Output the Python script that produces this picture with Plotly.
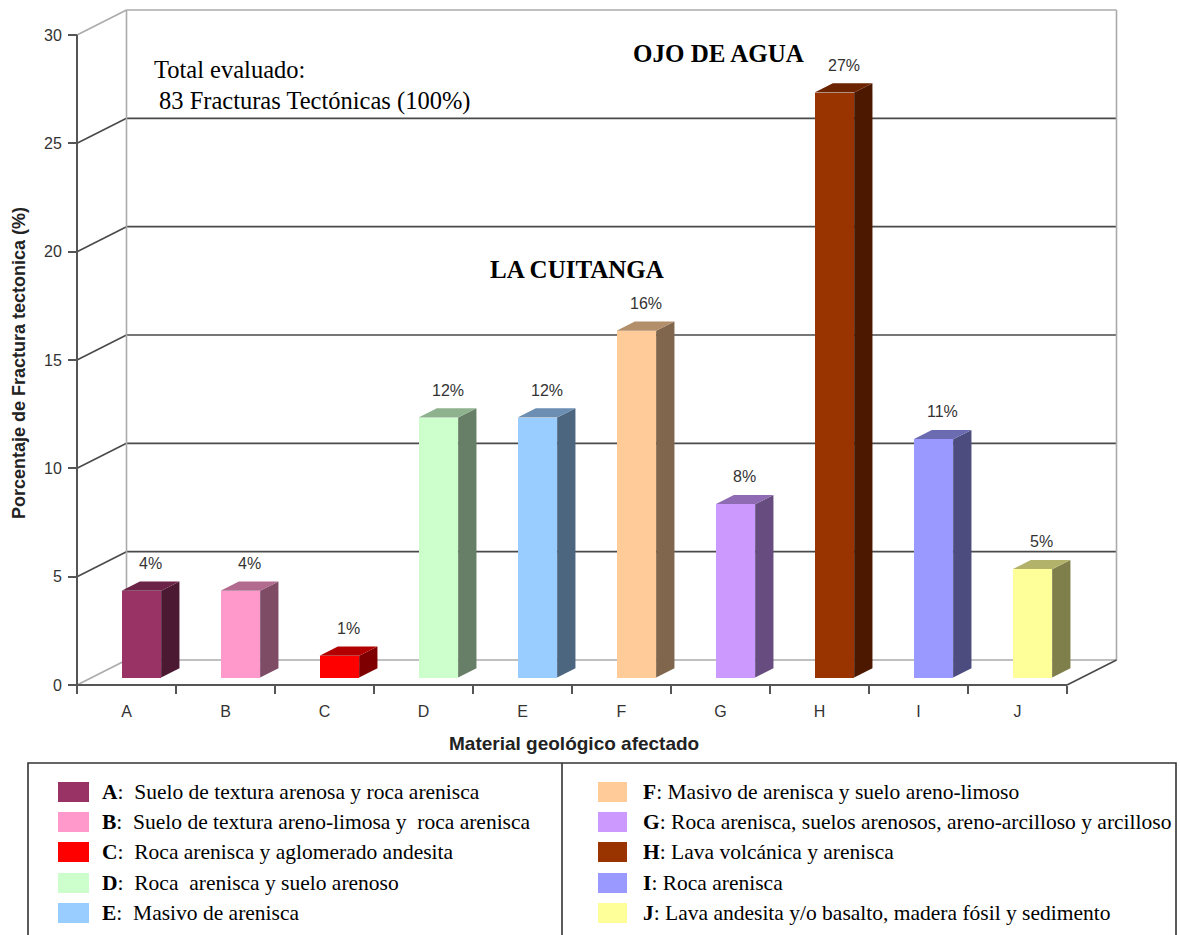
import plotly.graph_objects as go

# ---- data -------------------------------------------------------------
categories = ["A", "B", "C", "D", "E", "F", "G", "H", "I", "J"]
percentages = [4, 4, 1, 12, 12, 16, 8, 27, 11, 5]
bar_colors = ["#993366", "#ff99cc", "#ff0000", "#ccffcc", "#99ccff",
              "#ffcc99", "#cc99ff", "#993300", "#9999ff", "#ffff99"]
legend_texts = [
    "Suelo de textura arenosa y roca arenisca",
    "Suelo de textura areno-limosa y  roca arenisca",
    "Roca arenisca y aglomerado andesita",
    "Roca  arenisca y suelo arenoso",
    "Masivo de arenisca",
    "Masivo de arenisca y suelo areno-limoso",
    "Roca arenisca, suelos arenosos, areno-arcilloso y arcilloso",
    "Lava volcánica y arenisca",
    "Roca arenisca",
    "Lava andesita y/o basalto, madera fósil y sedimento",
]
y_ticks = [0, 5, 10, 15, 20, 25, 30]

# ---- layout geometry ----------------------------------------------------
W, H = 1180, 935
X0_PX, CAT_PX = 77, 99          # left edge of front plane, pixels per category
Y0_PX, UNIT_PX = 685, 650 / 30  # baseline of front plane, pixels per percent
DX, DY = 0.5, 25 / UNIT_PX      # depth of the 3-D box in data units
F0, FD, BW = 0.30, 0.37, 0.40   # bar front depth, bar depth, bar width

x_range = [-0.5 - X0_PX / CAT_PX, -0.5 + (W - X0_PX) / CAT_PX]
y_range = [-(H - Y0_PX) / UNIT_PX, Y0_PX / UNIT_PX]

SANS = "Liberation Sans, Arial, sans-serif"
SERIF = "Liberation Serif, Times New Roman, serif"


def shade(hex_color, k):
    h = hex_color.lstrip("#")
    r, g, b = (int(h[i:i + 2], 16) for i in (0, 2, 4))
    return "#{:02x}{:02x}{:02x}".format(int(r * k), int(g * k), int(b * k))


def px_x(p):
    return p / W


def px_y(p):
    return 1 - p / H


shapes = []


def seg(x0, y0, x1, y1, color, width=1.6):
    shapes.append(dict(type="line", xref="x", yref="y", x0=x0, y0=y0,
                       x1=x1, y1=y1, layer="below",
                       line=dict(color=color, width=width)))


DARK, LIGHT = "#4a4a4a", "#ababab"
xl, xr = -0.5, len(categories) - 0.5

# back wall, side wall and floor
for v in y_ticks:
    col = LIGHT if v in (0, y_ticks[-1]) else DARK
    seg(xl + DX, v + DY, xr + DX, v + DY, col)
    seg(xl, v, xl + DX, v + DY, col)
seg(xl + DX, DY, xl + DX, y_ticks[-1] + DY, LIGHT)
seg(xr + DX, DY, xr + DX, y_ticks[-1] + DY, LIGHT)
seg(xr, 0, xr + DX, DY, DARK)
# front axis lines
seg(xl, 0, xl, y_ticks[-1], "#555555", 2)
seg(xl, 0, xr, 0, "#555555", 2)

# side and top faces of every bar
base = F0 * DY
for i, (v, c) in enumerate(zip(percentages, bar_colors)):
    fl = i - BW / 2 + F0 * DX
    fr = fl + BW
    top = base + v
    ddx, ddy = FD * DX, FD * DY
    side = (f"M {fr},{base} L {fr + ddx},{base + ddy} "
            f"L {fr + ddx},{top + ddy} L {fr},{top} Z")
    cap = (f"M {fl},{top} L {fl + ddx},{top + ddy} "
           f"L {fr + ddx},{top + ddy} L {fr},{top} Z")
    for path, k in ((side, 0.5), (cap, 0.7)):
        shapes.append(dict(type="path", xref="x", yref="y", path=path,
                           layer="below", fillcolor=shade(c, k),
                           line=dict(width=0)))

fig = go.Figure()
fig.add_trace(go.Bar(
    x=list(range(len(categories))), y=percentages, base=base,
    width=BW, offset=-BW / 2 + F0 * DX,
    marker=dict(color=bar_colors, line=dict(width=0)),
    hoverinfo="skip", showlegend=False,
))

annotations = []
# value labels above each bar
for i, v in enumerate(percentages):
    annotations.append(dict(
        x=i + (F0 + FD / 2) * DX, y=base + v + FD * DY, xref="x", yref="y",
        text=f"{v}%", showarrow=False, yshift=18,
        font=dict(family=SANS, size=16, color="#333333")))


def note(text, x, y, size, family, color="#000000", xanchor="left",
         angle=0):
    annotations.append(dict(
        x=px_x(x), y=px_y(y), xref="paper", yref="paper", text=text,
        showarrow=False, xanchor=xanchor, yanchor="middle", textangle=angle,
        font=dict(family=family, size=size, color=color)))


note("Total evaluado:", 152, 70, 24.5, SERIF)
note("83 Fracturas Tectónicas (100%)", 157, 101, 24.5, SERIF)
note("<b>OJO DE AGUA</b>", 718, 54, 25, SERIF, xanchor="center")
note("<b>LA CUITANGA</b>", 577, 269, 25, SERIF, xanchor="center")
note("<b>Material geológico afectado</b>", 574, 743, 19, SANS,
     color="#222222", xanchor="center")
note("<b>Porcentaje de Fractura tectonica (%)</b>", 19, 363, 18, SANS,
     color="#222222", xanchor="center", angle=-90)

# legend table
LEG_TOP = 763
shapes.append(dict(type="rect", xref="paper", yref="paper",
                   x0=px_x(28), x1=px_x(1176), y0=px_y(LEG_TOP),
                   y1=px_y(H + 5), line=dict(color="#333333", width=1.6),
                   fillcolor="rgba(0,0,0,0)", layer="above"))
shapes.append(dict(type="line", xref="paper", yref="paper",
                   x0=px_x(562), x1=px_x(562), y0=px_y(LEG_TOP),
                   y1=px_y(H + 5), line=dict(color="#333333", width=1.6),
                   layer="above"))
row_y = [792, 822, 852, 883, 913]
for i, (cat, txt, col) in enumerate(zip(categories, legend_texts,
                                        bar_colors)):
    column, row = divmod(i, 5)
    sx0, sx1, tx = ((58, 89, 100) if column == 0 else (598, 627, 641))
    cy = row_y[row]
    shapes.append(dict(type="rect", xref="paper", yref="paper",
                       x0=px_x(sx0), x1=px_x(sx1), y0=px_y(cy - 10),
                       y1=px_y(cy + 10), fillcolor=col,
                       line=dict(width=0), layer="above"))
    sep = ":  " if column == 0 else ": "
    note(f"<b>{cat}</b>{sep}{txt}", tx, cy, 21.5, SERIF)

fig.update_layout(
    width=W, height=H,
    margin=dict(l=0, r=0, t=0, b=0),
    paper_bgcolor="white", plot_bgcolor="white",
    shapes=shapes, annotations=annotations,
    font=dict(family=SANS, size=16, color="#333333"),
    bargap=0,
    xaxis=dict(
        range=x_range, domain=[0, 1], anchor="free",
        position=(H - Y0_PX) / H, automargin=False,
        tickmode="array", tickvals=list(range(len(categories))),
        ticktext=categories, ticks="outside", ticklen=12,
        tickcolor="rgba(0,0,0,0)",
        minor=dict(tickmode="array",
                   tickvals=[k - 0.5 for k in range(len(categories) + 1)],
                   ticks="outside", ticklen=8, tickcolor="#555555",
                   tickwidth=1.6, showgrid=False),
        showgrid=False, zeroline=False, showline=False, fixedrange=True,
        tickfont=dict(family=SANS, size=16, color="#333333"),
    ),
    yaxis=dict(
        range=y_range, domain=[0, 1], anchor="free",
        position=X0_PX / W, automargin=False,
        tickmode="array", tickvals=y_ticks, ticks="outside", ticklen=9,
        tickcolor="#555555", tickwidth=1.6, ticklabelstandoff=3,
        showgrid=False, zeroline=False, showline=False, fixedrange=True,
        tickfont=dict(family=SANS, size=16, color="#333333"),
    ),
)

fig.write_html("out.html")
